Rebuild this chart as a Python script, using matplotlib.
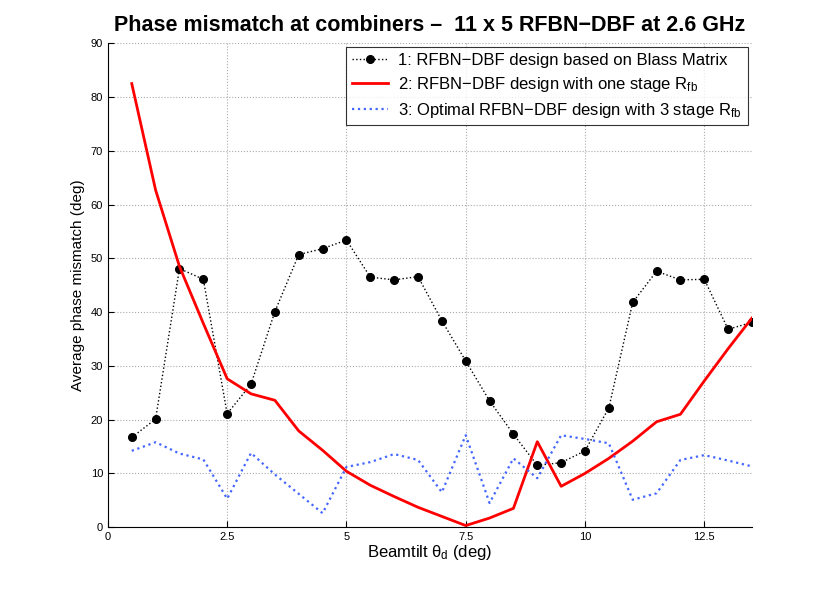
import numpy as np
import matplotlib
matplotlib.use("Agg")
from matplotlib import pyplot as plt

plt.rcParams['font.family'] = ['Liberation Sans', 'DejaVu Sans']
plt.rcParams['mathtext.fontset'] = 'custom'
plt.rcParams['mathtext.rm'] = 'Liberation Sans'
plt.rcParams['mathtext.it'] = 'Liberation Sans'

# angulo de inclinacion del haz (deg)
tilt = [0.5, 1.0, 1.5, 2.0, 2.5, 3.0, 3.5, 4.0, 4.5, 5.0, 5.5, 6.0, 6.5, 7.0,
        7.5, 8.0, 8.5, 9.0, 9.5, 10.0, 10.5, 11.0, 11.5, 12.0, 12.5, 13.0, 13.5]

# 1: diseno basado en matriz de Blass
blass = [16.7, 20.1, 48.1, 46.1, 21.1, 26.6, 40.1, 50.7, 51.8, 53.4, 46.5, 46.0, 46.6, 38.4,
         30.9, 23.5, 17.3, 11.5, 12.0, 14.2, 22.2, 41.8, 47.6, 46.0, 46.1, 36.8, 38.1]

# 2: una etapa Rfb
one_stage = [82.5, 62.7, 48.5, 37.9, 27.6, 24.8, 23.6, 17.9, 14.3, 10.4, 7.8, 5.7, 3.7, 2.0,
             0.3, 1.7, 3.5, 15.9, 7.6, 10.0, 12.8, 16.0, 19.6, 21.0, 27.2, 33.2, 38.9]

# 3: diseno optimo con 3 etapas
optimal = [14.2, 15.8, 13.7, 12.6, 5.3, 13.8, 9.8, 6.2, 2.6, 11.2, 12.1, 13.6, 12.5, 6.5,
           17.1, 4.5, 12.8, 9.1, 17.1, 16.4, 15.6, 5.1, 6.3, 12.5, 13.4, 12.4, 11.3]

xticks = [0, 2.5, 5, 7.5, 10, 12.5]
xticklabels = ['0', '2.5', '5', '7.5', '10', '12.5']
yticks = [0, 10, 20, 30, 40, 50, 60, 70, 80, 90]

fig = plt.figure(figsize=(8.3, 5.93), dpi=100)
ax = fig.add_axes([0.130, 0.111, 0.776, 0.816])

ax.plot(tilt, blass, color='k', linestyle=':', marker='o', markersize=5.5,
        linewidth=1.0, label='1: RFBN\u2212DBF design based on Blass Matrix')
ax.plot(tilt, one_stage, color='red', linewidth=2.0,
        label='2: RFBN\u2212DBF design with one stage R$_{\\rm fb}$')
ax.plot(tilt, optimal, color='#4466ff', linestyle=':', linewidth=1.6,
        label='3: Optimal RFBN\u2212DBF design with 3 stage R$_{\\rm fb}$')

ax.set_xlim(0, 13.5)
ax.set_ylim(0, 90)
ax.set_xticks(xticks)
ax.set_xticklabels(xticklabels)
ax.set_yticks(yticks)
ax.tick_params(direction='in', labelsize=8, length=4)
ax.grid(True, linestyle=':', color='#aaaaaa', linewidth=0.8)
ax.spines['top'].set_visible(False)
ax.spines['right'].set_visible(False)

ax.set_title('Phase mismatch at combiners \u2013  11 x 5 RFBN\u2212DBF at 2.6 GHz',
             fontsize=15.5, fontweight='bold', pad=9)
ax.set_xlabel('Beamtilt $\\theta_{\\rm d}$ (deg)', fontsize=12, labelpad=1)
ax.set_ylabel('Average phase mismatch (deg)', fontsize=11)

leg = ax.legend(loc='upper right', fontsize=12, frameon=True, fancybox=False,
                edgecolor='k', borderaxespad=0.25, handlelength=2.2,
                borderpad=0.35, labelspacing=0.4, handletextpad=0.6)
leg.get_frame().set_linewidth(0.8)

fig.savefig('out.png', dpi=100)
